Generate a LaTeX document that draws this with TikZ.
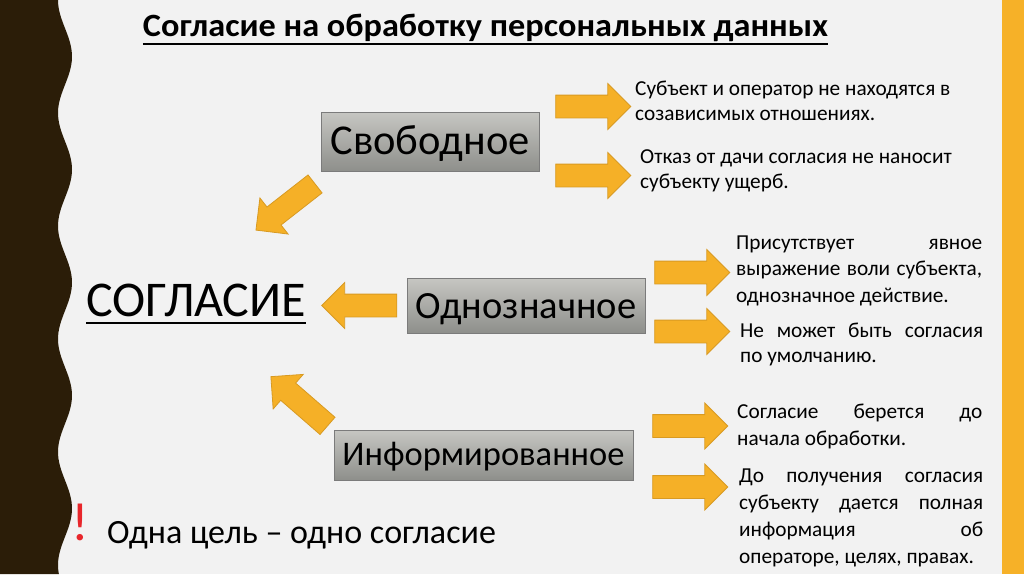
\documentclass[tikz,border=0pt]{standalone}
\usepackage{fontspec}
\setmainfont{Carlito}
\usetikzlibrary{shapes.arrows}
\definecolor{bg}{HTML}{F2F2F2}
\definecolor{darkstrip}{HTML}{2B1D08}
\definecolor{ystrip}{HTML}{F6B128}
\definecolor{arrfill}{HTML}{F5B027}
\definecolor{arrdraw}{HTML}{D89A22}
\definecolor{boxtop}{HTML}{C6C6C2}
\definecolor{boxbot}{HTML}{8E8F8B}
\definecolor{boxline}{HTML}{7B7B7B}
\definecolor{excl}{HTML}{E8262B}
\newcommand\jline[1]{\makebox[\linewidth][s]{#1}}
\begin{document}
\begin{tikzpicture}[x=1pt,y=-1pt,
  blockarr/.style={single arrow, fill=arrfill, draw=arrdraw, line width=0.8pt,
    minimum height=75pt, inner xsep=0pt, inner ysep=11pt,
    single arrow head extend=11.5pt, single arrow tip angle=90},
  graybox/.style={rectangle, top color=boxtop, bottom color=boxbot, draw=boxline,
    line width=0.6pt, inner sep=0pt, text depth=0pt},
  txt/.style={inner sep=0pt, anchor=base west}]
\useasboundingbox (0,0) rectangle (1024,574);
\fill[bg] (0,0) rectangle (1024,574);
% left wavy strip
\fill[darkstrip] (0,0) -- plot[domain=0:574,samples=160] ({65-7*cos(3.18584*\x)},\x) -- (0,574) -- cycle;
% right strip
\fill[ystrip] (1002,0) rectangle (1024,574);
% title
\node[inner sep=0pt, anchor=base, font=\fontsize{32.5}{36}\selectfont\bfseries] (title) at (485.5,36) {\resizebox{685pt}{\height}{Согласие на обработку персональных данных}};
\draw[line width=2pt] ([yshift=-7.5pt]title.base west) -- ([yshift=-7.5pt]title.base east);
% main word
\node[txt, font=\fontsize{50}{54}\selectfont] (soglasie) at (86,316) {СОГЛАСИЕ};
\draw[line width=2pt] ([yshift=-7pt]soglasie.base west) -- ([yshift=-7pt]soglasie.base east);
% boxes
\node[graybox, minimum width=218pt, minimum height=59pt, text height=26.5pt, font=\fontsize{42.5}{46}\selectfont] (svob) at (430,141.5) {Свободное};
\node[graybox, minimum width=238pt, minimum height=55pt, text height=25pt, font=\fontsize{38.5}{42}\selectfont] (odnoz) at (526,305.5) {Однозначное};
\node[graybox, minimum width=299pt, minimum height=50pt, text height=21pt, font=\fontsize{34.5}{38}\selectfont] (inform) at (483.5,455) {Информированное};
% arrows
\node[blockarr] (r1) at (587.5,106.5) {};
\node[blockarr] (r2) at (587.5,175.5) {};
\node[blockarr] (r3) at (686.5,272.5) {};
\node[blockarr] (r4) at (686.5,331.5) {};
\node[blockarr] (r5) at (684.5,426) {};
\node[blockarr] (r6) at (684.5,487) {};
\node[blockarr, rotate=180] (l1) at (365,305.5) {};
\node[blockarr, rotate=218] (d1) at (290,203.5) {};
\node[blockarr, rotate=139] (d2) at (303.5,405) {};
% texts
\node[txt] (t1) at (635,95) {\parbox[t]{360pt}{\fontsize{21.3}{25}\selectfont\raggedright Субъект и оператор не находятся в\\созависимых отношениях.}};
\node[txt] (t2) at (640,163) {\parbox[t]{360pt}{\fontsize{21.3}{25}\selectfont\raggedright Отказ от дачи согласия не наносит\\субъекту ущерб.}};
\node[txt] (t3) at (736,249) {\parbox[t]{246pt}{\fontsize{21.3}{26.5}\selectfont\jline{Присутствует явное}\\\jline{выражение воли субъекта,}\\однозначное действие.}};
\node[txt] (t4) at (740,337) {\parbox[t]{243pt}{\fontsize{21.3}{25}\selectfont\jline{Не может быть согласия}\\по умолчанию.}};
\node[txt] (t5) at (737,418) {\parbox[t]{245pt}{\fontsize{21.3}{27}\selectfont\jline{Согласие берется до}\\начала обработки.}};
\node[txt] (t6) at (739,482) {\parbox[t]{244pt}{\fontsize{21.3}{27}\selectfont\jline{До получения согласия}\\\jline{субъекту дается полная}\\\jline{информация об}\\операторе, целях, правах.}};
% bottom note
\node[txt, text=excl, font=\fontsize{54}{58}\selectfont] (excl) at (71,540) {!};
\node[txt, font=\fontsize{34}{38}\selectfont] (note) at (107,543) {Одна цель – одно согласие};
\end{tikzpicture}
\end{document}
